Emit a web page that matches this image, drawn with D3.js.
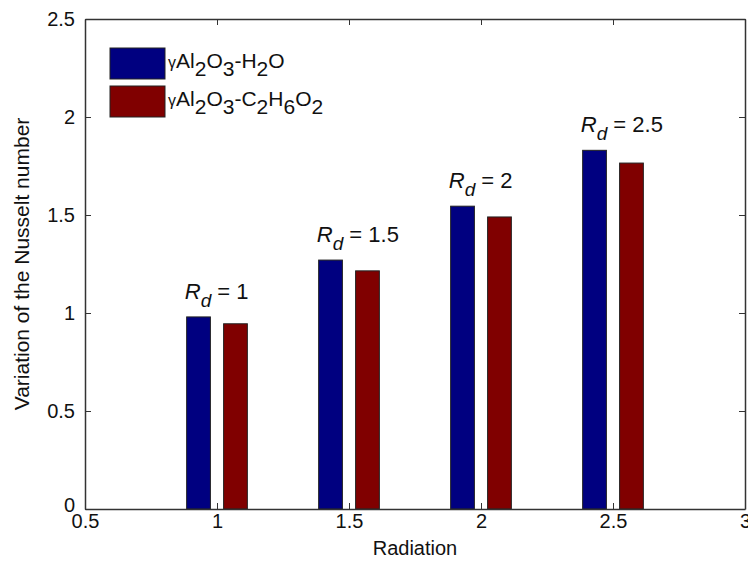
<!DOCTYPE html>
<html>
<head>
<meta charset="utf-8">
<script src="https://cdn.jsdelivr.net/npm/d3@7/dist/d3.min.js"></script>
<style>
  html, body { margin: 0; padding: 0; background: #fff; }
  svg { display: block; font-family: "Liberation Sans", Arial, sans-serif; }
</style>
</head>
<body>
<svg id="chart" width="748" height="566"></svg>
<script>
// Radiation parameter values (x positions of the bar groups)
const radiation = [1, 1.5, 2, 2.5];
// Variation of the Nusselt number for each nanofluid
const waterNu = [0.98, 1.27, 1.545, 1.83];
const glycolNu = [0.945, 1.215, 1.49, 1.765];
// Axis ticks
const xTicks = [0.5, 1, 1.5, 2, 2.5, 3];
const yTicks = [0, 0.5, 1, 1.5, 2, 2.5];
const xTickLabels = ["0.5", "1", "1.5", "2", "2.5", "3"];
const yTickLabels = ["0", "0.5", "1", "1.5", "2", "2.5"];

const blue = "#000080", red = "#800000";
const fontSize = 20;

const svg = d3.select("#chart");
const L = 85, R = 745, T = 19, B = 509;

const x = d3.scaleLinear().domain([0.5, 3]).range([L, R]);
const y = d3.scaleLinear().domain([0, 2.5]).range([B, T]);

const barOffset = 0.07, barWidth = 0.09;
const bw = x(barWidth) - x(0);

// Bars
const series = [
  { values: waterNu, color: blue, off: -barOffset },
  { values: glycolNu, color: red, off: barOffset }
];
series.forEach(s => {
  svg.append("g").selectAll("rect")
    .data(radiation)
    .join("rect")
    .attr("x", (d) => x(d + s.off) - bw / 2)
    .attr("width", bw)
    .attr("y", (d, i) => y(s.values[i]))
    .attr("height", (d, i) => y(0) - y(s.values[i]))
    .attr("fill", s.color)
    .attr("stroke", "#222")
    .attr("stroke-width", 1);
});

// Axes (ticks pointing inward on all four sides)
const axisColor = "#333";
const tick = 6;
const gx = svg.append("g").attr("transform", `translate(0,${B})`)
  .call(d3.axisBottom(x).tickValues(xTicks).tickSize(-tick).tickSizeOuter(0)
    .tickFormat((d, i) => xTickLabels[i]).tickPadding(5));
const gy = svg.append("g").attr("transform", `translate(${L},0)`)
  .call(d3.axisLeft(y).tickValues(yTicks).tickSize(-tick).tickSizeOuter(0)
    .tickFormat((d, i) => yTickLabels[i]).tickPadding(10));
const gt = svg.append("g").attr("transform", `translate(0,${T})`)
  .call(d3.axisTop(x).tickValues(xTicks).tickSize(-tick).tickSizeOuter(0).tickFormat(""));
const gr = svg.append("g").attr("transform", `translate(${R},0)`)
  .call(d3.axisRight(y).tickValues(yTicks).tickSize(-tick).tickSizeOuter(0).tickFormat(""));

[gx, gy, gt, gr].forEach(g => {
  g.select(".domain").attr("stroke", axisColor).attr("stroke-width", 1.5);
  g.selectAll(".tick line").attr("stroke", axisColor).attr("stroke-width", 1);
  g.selectAll(".tick text").attr("fill", "#111").style("font-size", fontSize + "px")
    .style("font-family", "'Liberation Sans', Arial, sans-serif");
});
// The zero label on the value axis sits tucked against the corner
gy.selectAll(".tick text").attr("dy", (d) => d === 0 ? "0.1em" : "0.32em");

// Axis titles
svg.append("text")
  .attr("x", (L + R) / 2).attr("y", 555)
  .attr("text-anchor", "middle").attr("font-size", fontSize).attr("fill", "#111")
  .text("Radiation");
svg.append("text")
  .attr("transform", `translate(29,${(T + B) / 2}) rotate(-90)`)
  .attr("text-anchor", "middle").attr("font-size", 21).attr("fill", "#111")
  .text("Variation of the Nusselt number");

// Annotations above each group
radiation.forEach((r, i) => {
  const t = svg.append("text")
    .attr("x", x(r - 0.122))
    .attr("y", y(waterNu[i]) - 18)
    .attr("font-size", 22).attr("fill", "#111");
  t.append("tspan").attr("font-style", "italic").text("R");
  t.append("tspan").attr("font-style", "italic").attr("dy", 8).attr("font-size", 19).text("d");
  t.append("tspan").attr("dy", -8).text(" = " + r);
});

// Legend
const legend = [
  { color: blue, parts: [["γAl", 0], ["2", 1], ["O", 0], ["3", 1], ["-H", 0], ["2", 1], ["O", 0]] },
  { color: red, parts: [["γAl", 0], ["2", 1], ["O", 0], ["3", 1], ["-C", 0], ["2", 1], ["H", 0], ["6", 1], ["O", 0], ["2", 1]] }
];
legend.forEach((item, k) => {
  const y0 = 48 + k * 38;
  svg.append("rect").attr("x", 110).attr("y", y0).attr("width", 55).attr("height", 31)
    .attr("fill", item.color).attr("stroke", "#222").attr("stroke-width", 1);
  const t = svg.append("text").attr("x", 168).attr("y", y0 + 20)
    .attr("font-size", 21).attr("fill", "#111");
  let sub = 0;
  item.parts.forEach(([s, isSub]) => {
    const ts = t.append("tspan");
    if (s.startsWith("γ")) {
      ts.append("tspan").attr("font-size", 16).text("γ");
      ts.append("tspan").text(s.slice(1));
    } else {
      ts.text(s);
    }
    const dy = (isSub ? 8 : 0) - (sub ? 8 : 0);
    if (dy) ts.attr("dy", dy);
    sub = isSub;
  });
});
</script>
</body>
</html>
